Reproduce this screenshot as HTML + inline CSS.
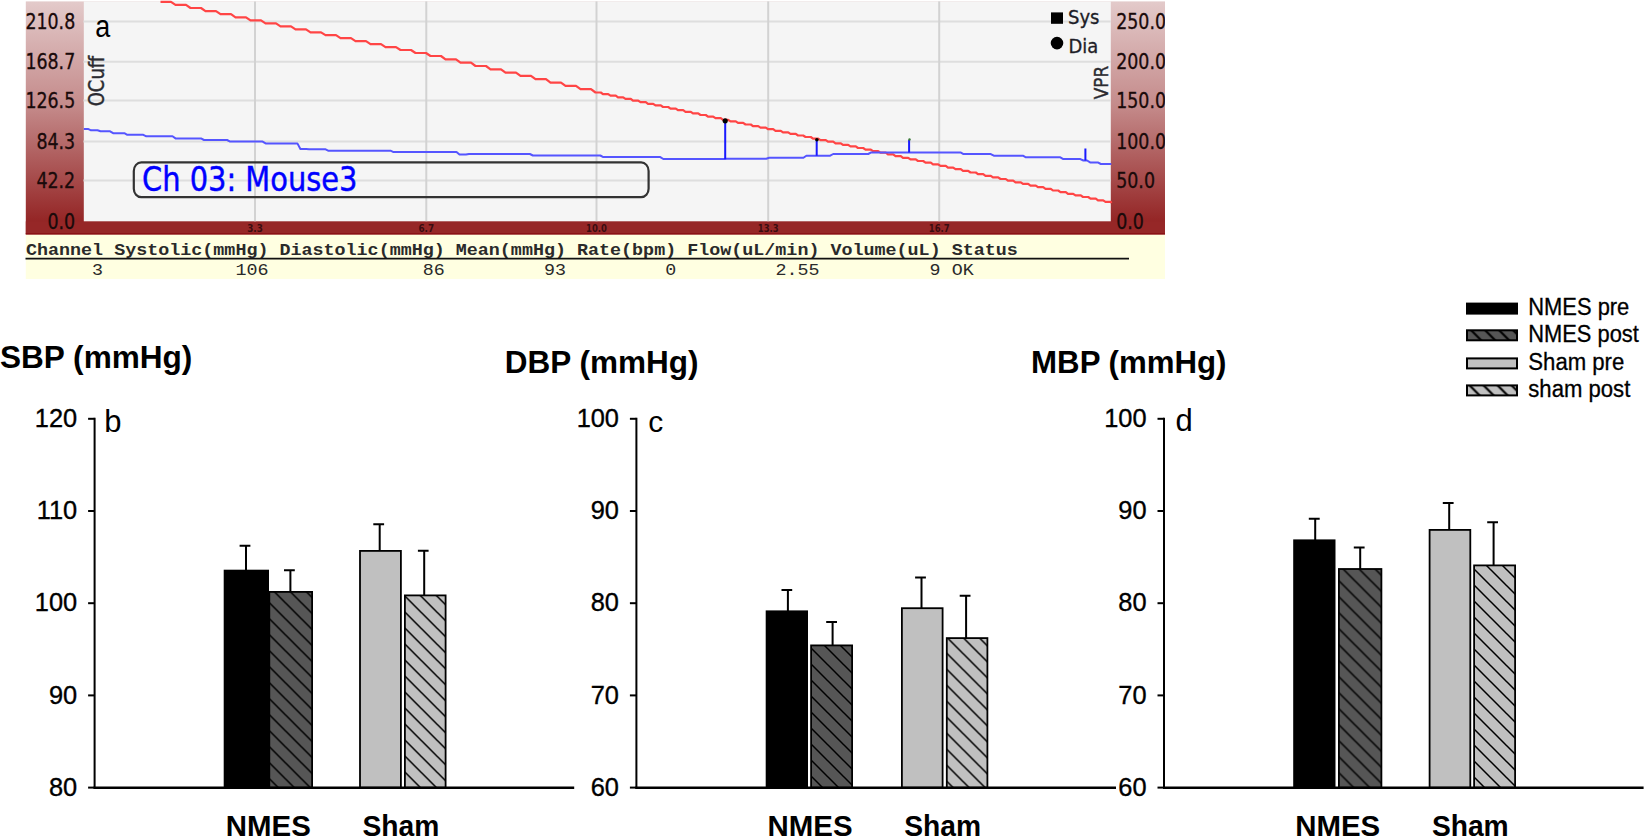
<!DOCTYPE html>
<html><head><meta charset="utf-8"><title>Figure</title>
<style>
html,body{margin:0;padding:0;background:#fff;}
svg{display:block;}
text{font-family:"Liberation Sans",sans-serif;}
.tah{font-family:"DejaVu Sans Condensed","DejaVu Sans","Liberation Sans",sans-serif;}
.mono{font-family:"Liberation Mono",monospace;}
</style></head><body>
<svg width="1645" height="838" viewBox="0 0 1645 838">
<defs>
<linearGradient id="rg" x1="0" y1="0" x2="0" y2="1">
<stop offset="0" stop-color="#e3caca"/><stop offset="0.45" stop-color="#c48a8a"/><stop offset="0.945" stop-color="#942525"/><stop offset="1" stop-color="#942525"/>
</linearGradient>
<pattern id="hbd" patternUnits="userSpaceOnUse" width="16" height="16" x="14.0" y="11.4"><rect width="16" height="16" fill="#565656"/><path d="M-2,-2 L18,18 M-2,14 L2,18 M14,-2 L18,2" stroke="#000" stroke-width="1.5" fill="none"/></pattern>
<pattern id="hbl" patternUnits="userSpaceOnUse" width="16" height="16" x="5.8" y="5.0"><rect width="16" height="16" fill="#c0c0c0"/><path d="M-2,-2 L18,18 M-2,14 L2,18 M14,-2 L18,2" stroke="#000" stroke-width="1.5" fill="none"/></pattern>
<pattern id="hcd" patternUnits="userSpaceOnUse" width="16" height="16" x="12.0" y="9.0"><rect width="16" height="16" fill="#565656"/><path d="M-2,-2 L18,18 M-2,14 L2,18 M14,-2 L18,2" stroke="#000" stroke-width="1.5" fill="none"/></pattern>
<pattern id="hcl" patternUnits="userSpaceOnUse" width="16" height="16" x="3.5" y="14.0"><rect width="16" height="16" fill="#c0c0c0"/><path d="M-2,-2 L18,18 M-2,14 L2,18 M14,-2 L18,2" stroke="#000" stroke-width="1.5" fill="none"/></pattern>
<pattern id="hdd" patternUnits="userSpaceOnUse" width="16" height="16" x="11.5" y="5.4"><rect width="16" height="16" fill="#565656"/><path d="M-2,-2 L18,18 M-2,14 L2,18 M14,-2 L18,2" stroke="#000" stroke-width="1.5" fill="none"/></pattern>
<pattern id="hdl" patternUnits="userSpaceOnUse" width="16" height="16" x="3.0" y="10.0"><rect width="16" height="16" fill="#c0c0c0"/><path d="M-2,-2 L18,18 M-2,14 L2,18 M14,-2 L18,2" stroke="#000" stroke-width="1.5" fill="none"/></pattern>
<pattern id="hld" patternUnits="userSpaceOnUse" width="14" height="14" x="1.2" y="8.3"><rect width="14" height="14" fill="#565656"/><path d="M-2,-2 L16,16 M-2,12 L2,16 M12,-2 L16,2" stroke="#000" stroke-width="2.2" fill="none"/></pattern>
<pattern id="hll" patternUnits="userSpaceOnUse" width="14" height="14" x="13.6" y="7.4"><rect width="14" height="14" fill="#c0c0c0"/><path d="M-2,-2 L16,16 M-2,12 L2,16 M12,-2 L16,2" stroke="#000" stroke-width="2.2" fill="none"/></pattern>
</defs>
<rect width="1645" height="838" fill="#fff"/>
<g id="panel-a">
<rect x="25.8" y="1.4" width="1139.2" height="233.1" fill="url(#rg)"/>
<rect x="25.8" y="234.4" width="1139.2" height="44.6" fill="#ffffe1"/>
<rect x="25.8" y="221.3" width="1139.2" height="13.1" fill="#962727"/>
<rect x="25.8" y="233" width="1139.2" height="1.4" fill="#8b1216"/>
<rect x="83.8" y="1.4" width="1027" height="219.9" fill="#f5f5f5"/>
<line x1="83.5" x2="1110.8" y1="21.5" y2="21.5" stroke="#dedede" stroke-width="2"/>
<line x1="83.5" x2="1110.8" y1="61.8" y2="61.8" stroke="#dedede" stroke-width="2"/>
<line x1="83.5" x2="1110.8" y1="100.5" y2="100.5" stroke="#dedede" stroke-width="2"/>
<line x1="83.5" x2="1110.8" y1="141.6" y2="141.6" stroke="#dedede" stroke-width="2"/>
<line x1="83.5" x2="1110.8" y1="180.4" y2="180.4" stroke="#dedede" stroke-width="2"/>
<line x1="255" x2="255" y1="1.4" y2="221.2" stroke="#d2d2d2" stroke-width="2"/>
<line x1="426.3" x2="426.3" y1="1.4" y2="221.2" stroke="#d2d2d2" stroke-width="2"/>
<line x1="596.5" x2="596.5" y1="1.4" y2="221.2" stroke="#d2d2d2" stroke-width="2"/>
<line x1="768.2" x2="768.2" y1="1.4" y2="221.2" stroke="#d2d2d2" stroke-width="2"/>
<line x1="939.2" x2="939.2" y1="1.4" y2="221.2" stroke="#d2d2d2" stroke-width="2"/>
<text class="tah" transform="translate(75.2,29.0) scale(0.94,1)" font-size="20.6" text-anchor="end" fill="#1a0a0a" stroke="#1a0a0a" stroke-width="0.3" textLength="53.0" lengthAdjust="spacingAndGlyphs">210.8</text>
<text class="tah" transform="translate(75.2,69.3) scale(0.94,1)" font-size="20.6" text-anchor="end" fill="#1a0a0a" stroke="#1a0a0a" stroke-width="0.3" textLength="53.0" lengthAdjust="spacingAndGlyphs">168.7</text>
<text class="tah" transform="translate(75.2,108.0) scale(0.94,1)" font-size="20.6" text-anchor="end" fill="#1a0a0a" stroke="#1a0a0a" stroke-width="0.3" textLength="53.0" lengthAdjust="spacingAndGlyphs">126.5</text>
<text class="tah" transform="translate(75.2,149.1) scale(0.94,1)" font-size="20.6" text-anchor="end" fill="#1a0a0a" stroke="#1a0a0a" stroke-width="0.3" textLength="41.25" lengthAdjust="spacingAndGlyphs">84.3</text>
<text class="tah" transform="translate(75.2,187.9) scale(0.94,1)" font-size="20.6" text-anchor="end" fill="#1a0a0a" stroke="#1a0a0a" stroke-width="0.3" textLength="41.25" lengthAdjust="spacingAndGlyphs">42.2</text>
<text class="tah" transform="translate(75.2,228.5) scale(0.94,1)" font-size="20.6" text-anchor="end" fill="#1a0a0a" stroke="#1a0a0a" stroke-width="0.3" textLength="29.45" lengthAdjust="spacingAndGlyphs">0.0</text>
<clipPath id="rc"><rect x="1110.8" y="0" width="54.2" height="240"/></clipPath>
<g clip-path="url(#rc)">
<text class="tah" transform="translate(1116.2,29.0) scale(0.94,1)" font-size="20.6" fill="#1a0a0a" stroke="#1a0a0a" stroke-width="0.3" textLength="53.0" lengthAdjust="spacingAndGlyphs">250.0</text>
<text class="tah" transform="translate(1116.2,69.3) scale(0.94,1)" font-size="20.6" fill="#1a0a0a" stroke="#1a0a0a" stroke-width="0.3" textLength="53.0" lengthAdjust="spacingAndGlyphs">200.0</text>
<text class="tah" transform="translate(1116.2,108.0) scale(0.94,1)" font-size="20.6" fill="#1a0a0a" stroke="#1a0a0a" stroke-width="0.3" textLength="53.0" lengthAdjust="spacingAndGlyphs">150.0</text>
<text class="tah" transform="translate(1116.2,149.1) scale(0.94,1)" font-size="20.6" fill="#1a0a0a" stroke="#1a0a0a" stroke-width="0.3" textLength="53.0" lengthAdjust="spacingAndGlyphs">100.0</text>
<text class="tah" transform="translate(1116.2,187.9) scale(0.94,1)" font-size="20.6" fill="#1a0a0a" stroke="#1a0a0a" stroke-width="0.3" textLength="41.25" lengthAdjust="spacingAndGlyphs">50.0</text>
<text class="tah" transform="translate(1116.2,228.5) scale(0.94,1)" font-size="20.6" fill="#1a0a0a" stroke="#1a0a0a" stroke-width="0.3" textLength="29.45" lengthAdjust="spacingAndGlyphs">0.0</text>
</g>
<text class="tah" x="255" y="231.7" font-size="10.6" font-weight="bold" text-anchor="middle" fill="#3a0c10" textLength="15.6" lengthAdjust="spacingAndGlyphs">3.3</text>
<text class="tah" x="426.3" y="231.7" font-size="10.6" font-weight="bold" text-anchor="middle" fill="#3a0c10" textLength="15.6" lengthAdjust="spacingAndGlyphs">6.7</text>
<text class="tah" x="596.5" y="231.7" font-size="10.6" font-weight="bold" text-anchor="middle" fill="#3a0c10" textLength="20.8" lengthAdjust="spacingAndGlyphs">10.0</text>
<text class="tah" x="768.2" y="231.7" font-size="10.6" font-weight="bold" text-anchor="middle" fill="#3a0c10" textLength="20.8" lengthAdjust="spacingAndGlyphs">13.3</text>
<text class="tah" x="939.2" y="231.7" font-size="10.6" font-weight="bold" text-anchor="middle" fill="#3a0c10" textLength="20.8" lengthAdjust="spacingAndGlyphs">16.7</text>
<text class="tah" transform="translate(104.2,106.3) rotate(-90)" font-size="20.5" fill="#2a2a30" stroke="#2a2a30" stroke-width="0.4" textLength="50.5" lengthAdjust="spacingAndGlyphs">OCuff</text>
<text class="tah" transform="translate(1107.7,99.3) rotate(-90)" font-size="19.5" fill="#2a2a30" stroke="#2a2a30" stroke-width="0.4" textLength="33.5" lengthAdjust="spacingAndGlyphs">VPR</text>
<polyline fill="none" stroke="#ff4545" stroke-width="2.2" stroke-linejoin="round" points="160.5,1.8 171.0,1.8 175.5,4.9 186.0,4.9 190.5,8.0 201.0,8.0 205.5,11.1 216.0,11.1 220.5,14.2 231.0,14.2 235.5,17.3 246.0,17.3 250.5,20.4 261.0,20.4 265.5,23.4 276.0,23.4 280.5,26.3 291.0,26.3 295.5,29.3 306.0,29.3 310.5,32.3 321.0,32.3 325.5,35.2 336.0,35.2 340.5,38.2 351.0,38.2 355.5,41.1 366.0,41.1 370.5,44.1 381.0,44.1 385.5,47.1 396.0,47.1 400.5,50.0 411.0,50.0 415.5,53.0 426.0,53.0 430.5,56.0 441.0,56.0 445.5,59.4 456.0,59.4 460.5,62.7 471.0,62.7 475.5,66.0 486.0,66.0 490.5,69.3 501.0,69.3 505.5,72.6 516.0,72.6 520.5,75.9 531.0,75.9 535.5,79.2 546.0,79.2 550.5,82.6 561.0,82.6 565.5,85.9 576.0,85.9 580.5,89.2 591.0,89.2 595.5,92.5 600.8,92.5 603.0,94.1 608.2,94.1 610.5,95.7 615.8,95.7 618.0,97.3 623.2,97.3 625.5,98.9 630.8,98.9 633.0,100.6 638.2,100.6 640.5,102.2 645.8,102.2 648.0,103.8 653.2,103.8 655.5,105.4 660.8,105.4 663.0,107.0 668.2,107.0 670.5,108.6 675.8,108.6 678.0,110.2 683.2,110.2 685.5,111.8 690.8,111.8 693.0,113.4 698.2,113.4 700.5,115.0 705.8,115.0 708.0,116.6 713.2,116.6 715.5,118.2 720.8,118.2 723.0,119.8 728.2,119.8 730.5,121.4 735.8,121.4 738.0,122.9 743.2,122.9 745.5,124.5 750.8,124.5 753.0,126.1 758.2,126.1 760.5,127.6 765.8,127.6 768.0,129.2 773.2,129.2 775.5,130.8 780.8,130.8 783.0,132.3 788.2,132.3 790.5,133.9 795.8,133.9 798.0,135.5 803.2,135.5 805.5,137.0 810.8,137.0 813.0,138.6 818.2,138.6 820.5,140.2 825.8,140.2 828.0,141.7 833.2,141.7 835.5,143.3 840.8,143.3 843.0,144.9 848.2,144.9 850.5,146.4 855.8,146.4 858.0,148.0 863.2,148.0 865.5,149.6 870.8,149.6 873.0,151.1 878.2,151.1 880.5,152.7 885.8,152.7 888.0,154.4 893.2,154.4 895.5,156.1 900.8,156.1 903.0,157.8 908.2,157.8 910.5,159.4 915.8,159.4 918.0,161.0 923.2,161.0 925.5,162.7 930.8,162.7 933.0,164.3 938.2,164.3 940.5,165.9 945.8,165.9 948.0,167.6 953.2,167.6 955.5,169.2 960.8,169.2 963.0,170.8 968.2,170.8 970.5,172.5 975.8,172.5 978.0,174.1 983.2,174.1 985.5,175.8 990.8,175.8 993.0,177.4 998.2,177.4 1000.5,179.0 1005.8,179.0 1008.0,180.7 1013.2,180.7 1015.5,182.3 1020.8,182.3 1023.0,183.9 1028.2,183.9 1030.5,185.6 1035.8,185.6 1038.0,187.2 1043.2,187.2 1045.5,188.8 1050.8,188.8 1053.0,190.5 1058.2,190.5 1060.5,192.1 1065.8,192.1 1068.0,193.8 1073.2,193.8 1075.5,195.4 1080.8,195.4 1083.0,197.0 1088.2,197.0 1090.5,198.7 1095.8,198.7 1098.0,200.3 1103.2,200.3 1105.5,201.9 1110.8,201.9 1111.3,203.2"/>
<polyline fill="none" stroke="#5555ff" stroke-width="2" stroke-linejoin="round" points="83.8,128.9 88.0,128.9 91.0,130.3 97.5,130.3 100.5,131.3 110.1,131.3 113.1,133.2 124.3,133.2 127.3,134.8 143.3,134.8 146.3,136.3 172.5,136.3 175.5,138.4 201.0,138.4 204.0,140.0 227.1,140.0 230.1,141.6 262.6,141.6 265.6,143.4 297.4,143.4 300.4,149.0 306.1,149.0 309.1,149.2 325.1,149.2 328.1,150.7 390.5,150.7 393.5,152.1 456.5,152.1 459.5,154.6 465.9,154.6 468.9,154.0 529.9,154.0 532.9,155.5 600.3,155.5 603.3,157.1 660.3,157.1 663.3,159.0 723.5,159.0 726.5,158.8 766.2,158.8 769.2,157.8 803.4,157.8 806.4,155.7 830.2,155.7 833.2,154.0 868.2,154.0 871.2,152.4 960.5,152.4 963.5,154.1 990.8,154.1 993.8,155.7 1022.9,155.7 1025.9,157.3 1060.3,157.3 1063.3,159.1 1080.4,159.1 1083.4,160.5 1087.1,160.5 1090.1,162.4 1097.8,162.4 1100.8,164.0 1111.3,164.0"/>
<path d="M725.2,121V159.3 M816.7,140V155.7 M909.1,140V152.4 M1085.4,148.6V160.4" stroke="#1a1aff" stroke-width="2" fill="none"/>
<circle cx="725.2" cy="120.8" r="2.6" fill="#000"/><circle cx="816.9" cy="139.8" r="1.8" fill="#000"/><circle cx="909.5" cy="139.5" r="1.2" fill="#3a7a3a"/>
<rect x="133.8" y="162.4" width="514.8" height="34.8" rx="7.5" ry="8.5" fill="none" stroke="#333" stroke-width="2.2"/>
<text class="tah" x="142" y="190.6" font-size="33.2" fill="#0000ff" stroke="#0000ff" stroke-width="0.4" textLength="215.5" lengthAdjust="spacingAndGlyphs">Ch 03: Mouse3</text>
<rect x="1051" y="12.4" width="12" height="11.4" fill="#000"/><circle cx="1057" cy="43.1" r="6.3" fill="#000"/>
<text class="tah" x="1068" y="24.3" font-size="19" fill="#1e1e28" stroke="#1e1e28" stroke-width="0.3" textLength="31.5" lengthAdjust="spacingAndGlyphs">Sys</text>
<text class="tah" x="1068.5" y="52.9" font-size="19" fill="#1e1e28" stroke="#1e1e28" stroke-width="0.3" textLength="29.8" lengthAdjust="spacingAndGlyphs">Dia</text>
<text x="95.2" y="36.8" font-size="31" fill="#000" textLength="15" lengthAdjust="spacingAndGlyphs">a</text>
<text class="mono" x="26" y="254.5" font-size="16.6" font-weight="bold" fill="#2a2a2a" textLength="991.8" lengthAdjust="spacingAndGlyphs">Channel Systolic(mmHg) Diastolic(mmHg) Mean(mmHg) Rate(bpm) Flow(uL/min) Volume(uL) Status</text>
<line x1="25.5" x2="1129" y1="258.6" y2="258.6" stroke="#111" stroke-width="1.7"/>
<text class="mono" x="92.1" y="275.2" font-size="16.6" fill="#2a2a2a" textLength="11.0" lengthAdjust="spacingAndGlyphs">3</text>
<text class="mono" x="235.4" y="275.2" font-size="16.6" fill="#2a2a2a" textLength="33.1" lengthAdjust="spacingAndGlyphs">106</text>
<text class="mono" x="422.7" y="275.2" font-size="16.6" fill="#2a2a2a" textLength="22.0" lengthAdjust="spacingAndGlyphs">86</text>
<text class="mono" x="543.9" y="275.2" font-size="16.6" fill="#2a2a2a" textLength="22.0" lengthAdjust="spacingAndGlyphs">93</text>
<text class="mono" x="665.2" y="275.2" font-size="16.6" fill="#2a2a2a" textLength="11.0" lengthAdjust="spacingAndGlyphs">0</text>
<text class="mono" x="775.4" y="275.2" font-size="16.6" fill="#2a2a2a" textLength="44.1" lengthAdjust="spacingAndGlyphs">2.55</text>
<text class="mono" x="929.6" y="275.2" font-size="16.6" fill="#2a2a2a" textLength="11.0" lengthAdjust="spacingAndGlyphs">9</text>
<text class="mono" x="951.7" y="275.2" font-size="16.6" fill="#2a2a2a" textLength="22.0" lengthAdjust="spacingAndGlyphs">OK</text>
</g>
<g>
<text x="0" y="367.7" font-size="31.5" font-weight="bold" textLength="192.4" lengthAdjust="spacingAndGlyphs">SBP (mmHg)</text>
<text x="77.2" y="427.0" font-size="25.4" text-anchor="end" stroke="#000" stroke-width="0.35">120</text>
<line x1="88.1" x2="94.6" y1="418.8" y2="418.8" stroke="#000" stroke-width="2"/>
<text x="77.2" y="519.2" font-size="25.4" text-anchor="end" stroke="#000" stroke-width="0.35">110</text>
<line x1="88.1" x2="94.6" y1="511.0" y2="511.0" stroke="#000" stroke-width="2"/>
<text x="77.2" y="611.4" font-size="25.4" text-anchor="end" stroke="#000" stroke-width="0.35">100</text>
<line x1="88.1" x2="94.6" y1="603.2" y2="603.2" stroke="#000" stroke-width="2"/>
<text x="77.2" y="703.6" font-size="25.4" text-anchor="end" stroke="#000" stroke-width="0.35">90</text>
<line x1="88.1" x2="94.6" y1="695.4" y2="695.4" stroke="#000" stroke-width="2"/>
<text x="77.2" y="795.8" font-size="25.4" text-anchor="end" stroke="#000" stroke-width="0.35">80</text>
<line x1="88.1" x2="94.6" y1="787.6" y2="787.6" stroke="#000" stroke-width="2"/>
<line x1="94.6" x2="94.6" y1="417.8" y2="788.8" stroke="#000" stroke-width="2"/>
<text x="104.2" y="432" font-size="31">b</text>
<path d="M246.0,570.7V545.7 M239.6,545.7H250.4" stroke="#000" stroke-width="2" fill="none"/>
<rect x="224.6" y="570.6" width="43.5" height="217.1" fill="#000" stroke="#000" stroke-width="1.8"/>
<path d="M290.4,592V570.2 M284.0,570.2H294.8" stroke="#000" stroke-width="2" fill="none"/>
<rect x="269.3" y="591.9" width="42.8" height="195.8" fill="url(#hbd)" stroke="#000" stroke-width="1.8"/>
<path d="M379.7,551V524.3 M373.3,524.3H384.1" stroke="#000" stroke-width="2" fill="none"/>
<rect x="360.0" y="550.9" width="40.9" height="236.8" fill="#c0c0c0" stroke="#000" stroke-width="1.8"/>
<path d="M424.2,595.5V550.8 M417.9,550.8H428.6" stroke="#000" stroke-width="2" fill="none"/>
<rect x="404.9" y="595.4" width="40.7" height="192.3" fill="url(#hbl)" stroke="#000" stroke-width="1.8"/>
<line x1="93.6" x2="574.2" y1="787.7" y2="787.7" stroke="#000" stroke-width="2.4"/>
<text x="225.8" y="836.3" font-size="30" font-weight="bold" textLength="85" lengthAdjust="spacingAndGlyphs">NMES</text>
<text x="362.5" y="836.3" font-size="30" font-weight="bold" textLength="76.8" lengthAdjust="spacingAndGlyphs">Sham</text>
</g>
<g>
<text x="504.8" y="373.3" font-size="31.5" font-weight="bold" textLength="193.6" lengthAdjust="spacingAndGlyphs">DBP (mmHg)</text>
<text x="619.0" y="427.0" font-size="25.4" text-anchor="end" stroke="#000" stroke-width="0.35">100</text>
<line x1="629.9" x2="636.4" y1="418.8" y2="418.8" stroke="#000" stroke-width="2"/>
<text x="619.0" y="519.2" font-size="25.4" text-anchor="end" stroke="#000" stroke-width="0.35">90</text>
<line x1="629.9" x2="636.4" y1="511.0" y2="511.0" stroke="#000" stroke-width="2"/>
<text x="619.0" y="611.4" font-size="25.4" text-anchor="end" stroke="#000" stroke-width="0.35">80</text>
<line x1="629.9" x2="636.4" y1="603.2" y2="603.2" stroke="#000" stroke-width="2"/>
<text x="619.0" y="703.6" font-size="25.4" text-anchor="end" stroke="#000" stroke-width="0.35">70</text>
<line x1="629.9" x2="636.4" y1="695.4" y2="695.4" stroke="#000" stroke-width="2"/>
<text x="619.0" y="795.8" font-size="25.4" text-anchor="end" stroke="#000" stroke-width="0.35">60</text>
<line x1="629.9" x2="636.4" y1="787.6" y2="787.6" stroke="#000" stroke-width="2"/>
<line x1="636.4" x2="636.4" y1="417.8" y2="788.8" stroke="#000" stroke-width="2"/>
<text x="648.2" y="431.7" font-size="30">c</text>
<path d="M787.9,611.4V589.9 M781.5,589.9H792.2" stroke="#000" stroke-width="2" fill="none"/>
<rect x="766.6" y="611.3" width="40.5" height="176.4" fill="#000" stroke="#000" stroke-width="1.8"/>
<path d="M832.6,645.5V622 M826.2,622H837.0" stroke="#000" stroke-width="2" fill="none"/>
<rect x="811.1" y="645.4" width="41.0" height="142.3" fill="url(#hcd)" stroke="#000" stroke-width="1.8"/>
<path d="M921.5,608.3V577.5 M915.1,577.5H925.9" stroke="#000" stroke-width="2" fill="none"/>
<rect x="901.9" y="608.2" width="40.7" height="179.5" fill="#c0c0c0" stroke="#000" stroke-width="1.8"/>
<path d="M966.1,638.2V595.7 M959.7,595.7H970.5" stroke="#000" stroke-width="2" fill="none"/>
<rect x="946.8" y="638.1" width="40.6" height="149.6" fill="url(#hcl)" stroke="#000" stroke-width="1.8"/>
<line x1="635.4" x2="1116.0" y1="787.7" y2="787.7" stroke="#000" stroke-width="2.4"/>
<text x="767.6" y="836.3" font-size="30" font-weight="bold" textLength="85" lengthAdjust="spacingAndGlyphs">NMES</text>
<text x="904.3" y="836.3" font-size="30" font-weight="bold" textLength="76.8" lengthAdjust="spacingAndGlyphs">Sham</text>
</g>
<g>
<text x="1031.1" y="373.3" font-size="31.5" font-weight="bold" textLength="195.4" lengthAdjust="spacingAndGlyphs">MBP (mmHg)</text>
<text x="1146.6" y="427.0" font-size="25.4" text-anchor="end" stroke="#000" stroke-width="0.35">100</text>
<line x1="1157.5" x2="1164" y1="418.8" y2="418.8" stroke="#000" stroke-width="2"/>
<text x="1146.6" y="519.2" font-size="25.4" text-anchor="end" stroke="#000" stroke-width="0.35">90</text>
<line x1="1157.5" x2="1164" y1="511.0" y2="511.0" stroke="#000" stroke-width="2"/>
<text x="1146.6" y="611.4" font-size="25.4" text-anchor="end" stroke="#000" stroke-width="0.35">80</text>
<line x1="1157.5" x2="1164" y1="603.2" y2="603.2" stroke="#000" stroke-width="2"/>
<text x="1146.6" y="703.6" font-size="25.4" text-anchor="end" stroke="#000" stroke-width="0.35">70</text>
<line x1="1157.5" x2="1164" y1="695.4" y2="695.4" stroke="#000" stroke-width="2"/>
<text x="1146.6" y="795.8" font-size="25.4" text-anchor="end" stroke="#000" stroke-width="0.35">60</text>
<line x1="1157.5" x2="1164" y1="787.6" y2="787.6" stroke="#000" stroke-width="2"/>
<line x1="1164" x2="1164" y1="417.8" y2="788.8" stroke="#000" stroke-width="2"/>
<text x="1175.4" y="430.7" font-size="31">d</text>
<path d="M1315.2,540.4V518.8 M1308.8,518.8H1319.7" stroke="#000" stroke-width="2" fill="none"/>
<rect x="1294.1" y="540.3" width="40.5" height="247.4" fill="#000" stroke="#000" stroke-width="1.8"/>
<path d="M1360.2,569.1V547.5 M1353.8,547.5H1364.6" stroke="#000" stroke-width="2" fill="none"/>
<rect x="1338.9" y="569.0" width="42.5" height="218.7" fill="url(#hdd)" stroke="#000" stroke-width="1.8"/>
<path d="M1449.2,530V503 M1442.8,503H1453.6" stroke="#000" stroke-width="2" fill="none"/>
<rect x="1429.6" y="529.9" width="40.7" height="257.8" fill="#c0c0c0" stroke="#000" stroke-width="1.8"/>
<path d="M1493.6,565.5V522.2 M1487.2,522.2H1498.0" stroke="#000" stroke-width="2" fill="none"/>
<rect x="1474.1" y="565.4" width="41.0" height="222.3" fill="url(#hdl)" stroke="#000" stroke-width="1.8"/>
<line x1="1163" x2="1643.6" y1="787.7" y2="787.7" stroke="#000" stroke-width="2.4"/>
<text x="1295.2" y="836.3" font-size="30" font-weight="bold" textLength="85" lengthAdjust="spacingAndGlyphs">NMES</text>
<text x="1431.9" y="836.3" font-size="30" font-weight="bold" textLength="76.8" lengthAdjust="spacingAndGlyphs">Sham</text>
</g>
<g id="legend">
<rect x="1467" y="303.6" width="50" height="10" fill="#000" stroke="#000" stroke-width="2"/>
<text x="1528.3" y="314.8" font-size="23" textLength="101" lengthAdjust="spacingAndGlyphs" stroke="#000" stroke-width="0.3">NMES pre</text>
<rect x="1467" y="330.3" width="50" height="10" fill="url(#hld)" stroke="#000" stroke-width="2"/>
<text x="1528.3" y="341.5" font-size="23" textLength="110.5" lengthAdjust="spacingAndGlyphs" stroke="#000" stroke-width="0.3">NMES post</text>
<rect x="1467" y="358.4" width="50" height="10" fill="#c0c0c0" stroke="#000" stroke-width="2"/>
<text x="1528.3" y="369.6" font-size="23" textLength="96" lengthAdjust="spacingAndGlyphs" stroke="#000" stroke-width="0.3">Sham pre</text>
<rect x="1467" y="385.4" width="50" height="10" fill="url(#hll)" stroke="#000" stroke-width="2"/>
<text x="1528.3" y="396.6" font-size="23" textLength="102" lengthAdjust="spacingAndGlyphs" stroke="#000" stroke-width="0.3">sham post</text>
</g>
</svg>
</body></html>
